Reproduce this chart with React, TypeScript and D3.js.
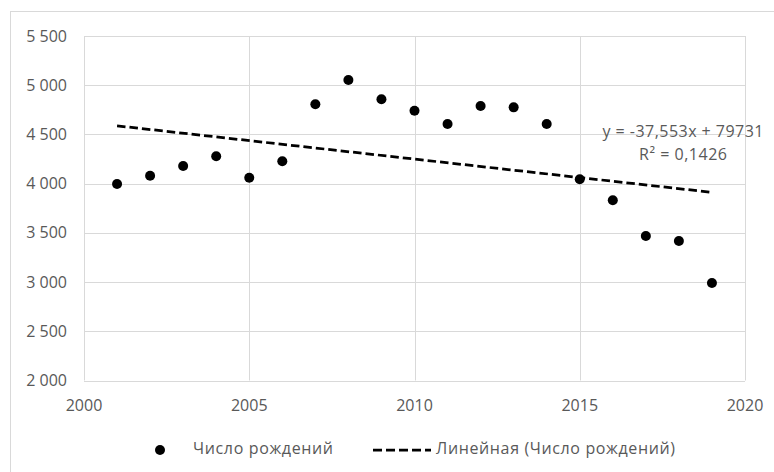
import React, { useEffect, useRef } from 'react';
import * as d3 from 'd3';

// Число рождений по годам
const years = [2001, 2002, 2003, 2004, 2005, 2006, 2007, 2008, 2009, 2010, 2011, 2012, 2013, 2014, 2015, 2016, 2017, 2018, 2019];
const births = [3996, 4081, 4179, 4278, 4060, 4227, 4806, 5053, 4857, 4741, 4606, 4789, 4775, 4606, 4044, 3831, 3468, 3417, 2991];
const yTicks = [2000, 2500, 3000, 3500, 4000, 4500, 5000, 5500];
const xTicks = [2000, 2005, 2010, 2015, 2020];
const trendSlope = -37.553;
const trendIntercept = 79731;
const equationLines = ['y = -37,553x + 79731', 'R² = 0,1426'];
const seriesName = 'Число рождений';
const trendName = 'Линейная (Число рождений)';

const FONT = '"Open Sans", "Liberation Sans", sans-serif';
const LABEL = '#595959';
const GRID = '#d9d9d9';

export default function App() {
  const ref = useRef<SVGSVGElement>(null);

  useEffect(() => {
    const svg = d3.select(ref.current);
    svg.selectAll('*').remove();

    const left = 84, right = 745, top = 36, bottom = 380.5;
    const x = d3.scaleLinear().domain([2000, 2020]).range([left, right]);
    const y = d3.scaleLinear().domain([2000, 5500]).range([bottom, top]);
    const fmt = d3.formatLocale({ decimal: ',', thousands: '\u00a0', grouping: [3], currency: ['', ''] }).format(',d');

    // chart frame
    svg.append('rect').attr('x', 10.5).attr('y', 11.5).attr('width', 800).attr('height', 500)
      .attr('fill', 'white').attr('stroke', GRID);

    // grid
    svg.append('g').selectAll('line').data(yTicks).enter().append('line')
      .attr('x1', left).attr('x2', right)
      .attr('y1', d => Math.round(y(d)) + 0.5).attr('y2', d => Math.round(y(d)) + 0.5)
      .attr('stroke', GRID).attr('stroke-width', 1);
    svg.append('g').selectAll('line').data(xTicks).enter().append('line')
      .attr('y1', top).attr('y2', bottom)
      .attr('x1', d => Math.round(x(d)) + 0.5).attr('x2', d => Math.round(x(d)) + 0.5)
      .attr('stroke', GRID).attr('stroke-width', 1);

    // axis labels
    svg.append('g').selectAll('text').data(yTicks).enter().append('text')
      .text(d => fmt(d))
      .attr('x', 67).attr('y', d => y(d))
      .attr('dy', '0.35em')
      .attr('text-anchor', 'end')
      .attr('font-family', FONT).attr('font-size', 16).attr('fill', LABEL);
    svg.append('g').selectAll('text').data(xTicks).enter().append('text')
      .text(d => String(d))
      .attr('x', d => x(d)).attr('y', 405)
      .attr('dy', '0.35em')
      .attr('text-anchor', 'middle')
      .attr('font-family', FONT).attr('font-size', 16).attr('fill', LABEL);

    // trendline
    const t0 = years[0], t1 = years[years.length - 1];
    svg.append('line')
      .attr('x1', x(t0)).attr('y1', y(trendSlope * t0 + trendIntercept))
      .attr('x2', x(t1)).attr('y2', y(trendSlope * t1 + trendIntercept))
      .attr('stroke', '#000').attr('stroke-width', 2.75).attr('stroke-dasharray', '8.5,4');

    // points
    svg.append('g').selectAll('circle').data(years).enter().append('circle')
      .attr('cx', d => x(d)).attr('cy', (d, i) => y(births[i]))
      .attr('r', 5).attr('fill', '#000');

    // equation
    const eqWidths = [161, 88];
    svg.append('g').selectAll('text').data(equationLines).enter().append('text')
      .text(d => d)
      .attr('x', 683).attr('y', (d, i) => 131 + i * 23)
      .attr('dy', '0.35em')
      .attr('text-anchor', 'middle')
      .attr('textLength', (d, i) => eqWidths[i]).attr('lengthAdjust', 'spacing')
      .attr('font-family', FONT).attr('font-size', 16).attr('fill', LABEL);

    // legend
    const lg = svg.append('g');
    lg.append('circle').attr('cx', 160).attr('cy', 450).attr('r', 5).attr('fill', '#000');
    lg.append('text').text(seriesName).attr('x', 193).attr('y', 448).attr('dy', '0.35em')
      .attr('textLength', 140).attr('lengthAdjust', 'spacing')
      .attr('font-family', FONT).attr('font-size', 16).attr('fill', LABEL);
    lg.append('line').attr('x1', 373).attr('x2', 431).attr('y1', 450).attr('y2', 450)
      .attr('stroke', '#000').attr('stroke-width', 2.75).attr('stroke-dasharray', '9,4');
    lg.append('text').text(trendName).attr('x', 436).attr('y', 448).attr('dy', '0.35em')
      .attr('textLength', 239).attr('lengthAdjust', 'spacing')
      .attr('font-family', FONT).attr('font-size', 16).attr('fill', LABEL);
  }, []);

  return (
    <svg ref={ref} width={774} height={472}
      style={{ position: 'absolute', left: 0, top: 0, display: 'block', background: 'white' }} />
  );
}
